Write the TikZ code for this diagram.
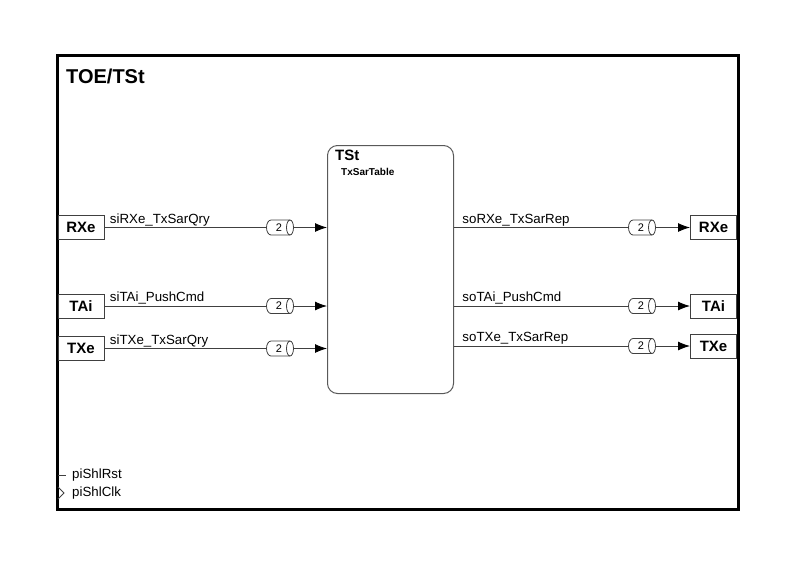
\documentclass[tikz,border=0pt]{standalone}
\usepackage{fontspec}
\setmainfont{Liberation Sans}
\usetikzlibrary{arrows.meta}
\begin{document}
\begin{tikzpicture}[x=1pt,y=-1pt,
  portbox/.style={draw=black!75,line width=1pt,fill=white,minimum width=46pt,minimum height=24pt,inner sep=0pt,font=\fontsize{15}{15}\selectfont\bfseries},
  sig/.style={draw=black!75,line width=0.9pt},
  sigarr/.style={sig,-{Latex[length=12pt,width=9pt,color=black]}},
  siglab/.style={anchor=south west,inner sep=1pt,font=\fontsize{13.3}{14}\selectfont},
  badge/.pic={
    \path[draw=black!75,fill=white,line width=0.8pt] (-9,-7.5) -- (10,-7.5) arc[start angle=-90,end angle=90,x radius=3.5,y radius=7.5] -- (-9,7.5) arc[start angle=90,end angle=270,x radius=4.5,y radius=7.5] -- cycle;
    \draw[black!75,line width=0.8pt] (10,-7.5) arc[start angle=-90,end angle=-270,x radius=3.5,y radius=7.5];
    \node[font=\fontsize{11}{11}\selectfont,inner sep=0pt] at (-1,0) {2};
  }]
\useasboundingbox (0,0) rectangle (794,560);
% outer frame
\draw[line width=3pt] (57,55) rectangle (738,509);
\node[anchor=west,inner sep=0pt,font=\fontsize{20}{20}\selectfont\bfseries] (title) at (66,76) {TOE/TSt};
% inner block
\node[draw=black!65,line width=1pt,rounded corners=10pt,minimum width=126pt,minimum height=248pt,anchor=north west,inner sep=0pt] (tst) at (327,145) {};
\node[anchor=west,inner sep=0pt,font=\fontsize{15}{15}\selectfont\bfseries] (tstname) at (335,155) {TSt};
\node[anchor=west,inner sep=0pt,font=\fontsize{10}{10}\selectfont\bfseries] (tstinst) at (341,172) {TxSarTable};
% left ports
\node[portbox] (lrxe) at (81,227.5) {RXe};
\node[portbox] (ltai) at (81,306) {TAi};
\node[portbox] (ltxe) at (81,348.5) {TXe};
% right ports
\node[portbox] (rrxe) at (713.5,227.5) {RXe};
\node[portbox] (rtai) at (713.5,306) {TAi};
\node[portbox] (rtxe) at (713.5,346) {TXe};
% left signals
\draw[sigarr] (lrxe.east) -- (tst.west |- lrxe.east) node[pos=0,siglab,xshift=4pt] (l1) {siRXe\_TxSarQry};
\draw[sigarr] (ltai.east) -- (tst.west |- ltai.east) node[pos=0,siglab,xshift=4pt] (l2) {siTAi\_PushCmd};
\draw[sigarr] (ltxe.east) -- (tst.west |- ltxe.east) node[pos=0,siglab,xshift=4pt] (l3) {siTXe\_TxSarQry};
\pic at (280,227.5) {badge};
\pic at (280,306) {badge};
\pic at (280,348.5) {badge};
% right signals
\draw[sigarr] (tst.east |- rrxe.west) -- (rrxe.west) node[pos=0,siglab,xshift=7pt] (r1) {soRXe\_TxSarRep};
\draw[sigarr] (tst.east |- rtai.west) -- (rtai.west) node[pos=0,siglab,xshift=7pt] (r2) {soTAi\_PushCmd};
\draw[sigarr] (tst.east |- rtxe.west) -- (rtxe.west) node[pos=0,siglab,xshift=7pt] (r3) {soTXe\_TxSarRep};
\pic at (642,227.5) {badge};
\pic at (642,306) {badge};
\pic at (642,346) {badge};
% reset / clock
\coordinate (rstA) at (58,475);
\coordinate (rstB) at (66,475);
\draw[black!75,line width=0.8pt] (rstA) -- (rstB);
\node[anchor=west,inner sep=0pt,font=\fontsize{13.3}{14}\selectfont] (rst) at (72,475) {piShlRst};
\coordinate (clkA) at (58,487);
\coordinate (clkB) at (64,493);
\coordinate (clkC) at (58,499);
\draw[black!75,line width=0.8pt] (clkA) -- (clkB) -- (clkC);
\node[anchor=west,inner sep=0pt,font=\fontsize{13.3}{14}\selectfont] (clk) at (72,493) {piShlClk};
\end{tikzpicture}
\end{document}
